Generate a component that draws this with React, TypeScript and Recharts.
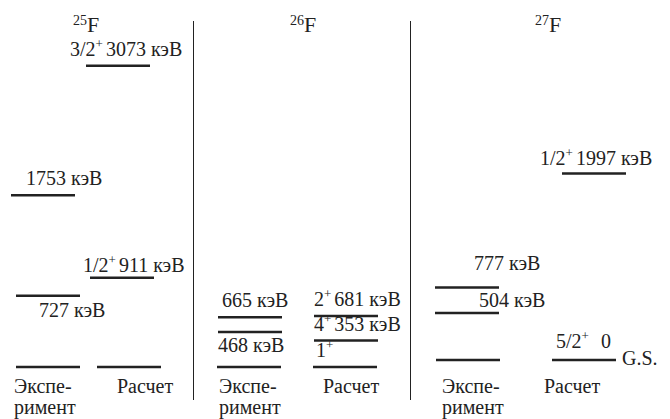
import { ScatterChart, Scatter, XAxis, YAxis } from "recharts";

// level energies in keV; spins belong to the calculated levels
const f25ExpEnergies = [0, 727, 1753];
const f25CalcEnergies = [0, 911, 3073];
const f25CalcSpins = ["", "1/2", "3/2"];

const f26ExpEnergies = [0, 468, 665];
const f26CalcEnergies = [0, 353, 681];
const f26CalcSpins = ["1", "4", "2"];

const f27ExpEnergies = [0, 504, 777];
const f27CalcEnergies = [0, 1997];
const f27CalcSpins = ["5/2", "1/2"];

const unit = "кэВ";
const expCaption = ["Экспе-", "римент"];
const calcCaption = ["Расчет"];

const SERIF = "Liberation Serif, DejaVu Serif, serif";
const INK = "#222";
const HALF = 32;
const textStyle = { fontFamily: SERIF };

type Level = { col: number; energy: number; spin: string; key: string };

const buildLevels = (
  mass: number,
  exp: number[],
  calc: number[],
  spins: string[]
): Level[] => [
  ...exp.map((e) => ({ col: 0, energy: e, spin: "", key: `${mass}-0-${e}` })),
  ...calc.map((e, i) => ({ col: 1, energy: e, spin: spins[i], key: `${mass}-1-${e}` })),
];

// where each bar and its caption sit relative to the column centre
const levelLayout: Record<string, { shift: number; dx: number; dy: number; gap?: number }> = {
  "25-0-0": { shift: 0, dx: 0, dy: 0 },
  "25-0-727": { shift: 0, dx: 23, dy: 21 },
  "25-0-1753": { shift: -5, dx: 15, dy: -10 },
  "25-1-0": { shift: 6, dx: 0, dy: 0 },
  "25-1-911": { shift: -1, dx: -7, dy: -6 },
  "25-1-3073": { shift: -5, dx: -16, dy: -10 },
  "26-0-0": { shift: -1, dx: 0, dy: 0 },
  "26-0-468": { shift: 0, dx: 0, dy: 20 },
  "26-0-665": { shift: 0, dx: 4, dy: -10 },
  "26-1-0": { shift: -1, dx: 3, dy: -10 },
  "26-1-353": { shift: 0, dx: 0, dy: -10 },
  "26-1-681": { shift: 0, dx: 0, dy: -10 },
  "27-0-0": { shift: 0, dx: 0, dy: 0 },
  "27-0-504": { shift: -1, dx: 44, dy: -6 },
  "27-0-777": { shift: -1, dx: 39, dy: -17 },
  "27-1-0": { shift: -4, dx: 4, dy: -12, gap: 12 },
  "27-1-1997": { shift: 6, dx: -22, dy: -8 },
};

type Panel = {
  mass: number;
  levels: Level[];
  left: number;
  width: number;
  margin: { top: number; right: number; bottom: number; left: number };
  yMax: number;
  captionShift: number[];
  captionDy: number;
  titleX: number;
  showZero?: boolean;
  note?: string;
};

const panels: Panel[] = [
  {
    mass: 25,
    levels: buildLevels(25, f25ExpEnergies, f25CalcEnergies, f25CalcSpins),
    left: 0,
    width: 194,
    margin: { top: 4.4, right: 33.5, bottom: 22, left: 10.5 },
    yMax: 3700,
    captionShift: [-34, -6],
    captionDy: 26,
    titleX: 73,
  },
  {
    mass: 26,
    levels: buildLevels(26, f26ExpEnergies, f26CalcEnergies, f26CalcSpins),
    left: 194,
    width: 217,
    margin: { top: 82, right: 17, bottom: 22, left: 8 },
    yMax: 3800,
    captionShift: [-31, -23],
    captionDy: 26,
    titleX: 96,
  },
  {
    mass: 27,
    levels: buildLevels(27, f27ExpEnergies, f27CalcEnergies, f27CalcSpins),
    left: 400,
    width: 270,
    margin: { top: 5, right: 22, bottom: 29, left: 8 },
    yMax: 3800,
    captionShift: [-26, -44],
    captionDy: 33,
    titleX: 135,
    showZero: true,
    note: "G.S.",
  },
];

const makeLevelShape = (panel: Panel) => (props: any) => {
  const { cx, cy, payload } = props;
  const lv = payload as Level;
  const lay = levelLayout[lv.key] ?? { shift: 0, dx: 0, dy: -10 };
  const x1 = cx + lay.shift - HALF;
  const x2 = x1 + 2 * HALF;
  const isGround = lv.energy === 0;
  const value = isGround ? (panel.showZero ? "0" : "") : `${lv.energy} ${unit}`;
  const hasLabel = !isGround || lv.spin !== "";
  return (
    <g>
      <line x1={x1} x2={x2} y1={cy} y2={cy} stroke={INK} strokeWidth={2.5} />
      {hasLabel && (
        <text x={x1 + lay.dx} y={cy + lay.dy} fontSize={20} fill={INK} style={textStyle}>
          {lv.spin && <tspan>{lv.spin}</tspan>}
          {lv.spin && (
            <tspan fontSize={13} dy={-8}>
              +
            </tspan>
          )}
          {value && (
            <tspan dy={lv.spin ? 8 : 0} dx={lv.spin ? lay.gap ?? 3 : 0}>
              {value}
            </tspan>
          )}
        </text>
      )}
      {isGround && lv.col === 1 && panel.note && (
        <text x={x2 + 6} y={cy + 5} fontSize={20} fill={INK} style={textStyle}>
          {panel.note}
        </text>
      )}
    </g>
  );
};

const makeCaption = (panel: Panel) => (props: any) => {
  const { x, y, payload } = props;
  const col = payload.value as number;
  const lines = col === 0 ? expCaption : calcCaption;
  return (
    <text
      x={x + panel.captionShift[col]}
      y={y + panel.captionDy}
      fontSize={20}
      fill={INK}
      style={textStyle}
    >
      {lines.map((t, i) => (
        <tspan key={t} x={x + panel.captionShift[col]} dy={i === 0 ? 0 : 21}>
          {t}
        </tspan>
      ))}
    </text>
  );
};

function LevelPanel({ panel }: { panel: Panel }) {
  return (
    <div style={{ position: "absolute", left: panel.left, top: 0 }}>
      <ScatterChart width={panel.width} height={419} margin={panel.margin} style={textStyle}>
        <XAxis
          type="number"
          dataKey="col"
          domain={[-0.5, 1.5]}
          ticks={[0, 1]}
          interval={0}
          axisLine={false}
          tickLine={false}
          tickSize={0}
          tickMargin={0}
          height={30}
          tick={makeCaption(panel)}
        />
        <YAxis type="number" dataKey="energy" domain={[0, panel.yMax]} hide />
        <Scatter data={panel.levels} shape={makeLevelShape(panel)} isAnimationActive={false} />
        <text x={panel.titleX} y={32} fontSize={22} fill={INK} style={textStyle}>
          <tspan fontSize={14} dy={-7}>
            {panel.mass}
          </tspan>
          <tspan dy={7}>F</tspan>
        </text>
      </ScatterChart>
    </div>
  );
}

const dividers = [193, 410];

export default function App() {
  return (
    <div
      style={{
        position: "absolute",
        left: 0,
        top: 0,
        width: 670,
        height: 419,
        background: "#fff",
        fontFamily: SERIF,
      }}
    >
      {panels.map((p) => (
        <LevelPanel key={p.mass} panel={p} />
      ))}
      {dividers.map((x) => (
        <div
          key={x}
          style={{
            position: "absolute",
            left: x,
            top: 21,
            height: 379,
            borderLeft: `1.5px solid ${INK}`,
          }}
        />
      ))}
    </div>
  );
}
